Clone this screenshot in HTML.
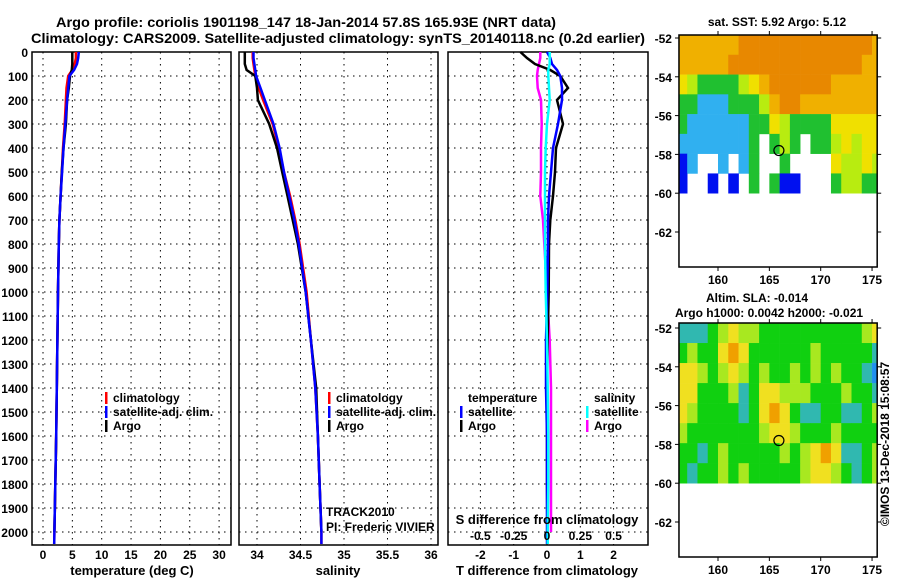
<!DOCTYPE html>
<html><head><meta charset="utf-8"><style>
html,body{margin:0;padding:0;background:#fff;}
svg{display:block;font-family:"Liberation Sans",sans-serif;}
.b{font-weight:bold;font-size:12px;}
</style></head><body>
<svg id="svg" width="900" height="580" viewBox="0 0 900 580">
<text x="56" y="27" class="b" style="font-size:14px" textLength="500" lengthAdjust="spacingAndGlyphs">Argo profile: coriolis 1901198_147 18-Jan-2014 57.8S 165.93E (NRT data)</text>
<text x="31" y="43" class="b" style="font-size:14px" textLength="614" lengthAdjust="spacingAndGlyphs">Climatology: CARS2009. Satellite-adjusted climatology: synTS_20140118.nc (0.2d earlier)</text>
<g id="g"></g>
</svg>
<script>
const depths=[0,25,50,75,100,150,200,300,400,500,600,700,800,1000,1200,1400,1600,1800,2000,2050];
const tClim=[5.6,5.6,5.4,5.0,4.3,4.0,3.9,3.7,3.4,3.2,3.0,2.8,2.7,2.55,2.45,2.35,2.25,2.1,1.95,1.9];
const tSat=[6.1,6.0,5.8,5.3,4.5,4.3,4.1,3.8,3.5,3.25,3.0,2.8,2.7,2.55,2.45,2.35,2.25,2.1,1.95,1.9];
const tArgo=[5.0,5.0,5.0,4.9,4.6,4.4,4.1,3.9,3.5,3.2,3.0,2.8,2.7,2.55,2.45,2.35,2.25,2.1,1.95,null];
const sClim=[33.95,33.95,33.96,33.97,33.98,34.02,34.07,34.18,34.25,34.31,34.38,34.44,34.49,34.57,34.62,34.67,34.70,34.72,34.74,34.74];
const sSat=[33.96,33.96,33.97,33.98,33.99,34.04,34.09,34.19,34.26,34.31,34.37,34.43,34.48,34.56,34.62,34.67,34.70,34.72,34.74,34.74];
const sArgo=[33.86,33.86,33.86,33.88,33.98,34.00,34.01,34.14,34.23,34.29,34.35,34.41,34.47,34.56,34.62,34.68,34.70,34.72,34.74,null];
const dTSat=[0,0.1,0.15,0.3,0.4,0.45,0.45,0.33,0.18,0.12,0.06,0.03,0.03,0.01,-0.03,-0.03,0,0,0,0];
const dTArgo=[-0.8,-0.6,-0.36,0.1,0.4,0.63,0.3,0.48,0.27,0.24,0.18,0.1,0.06,0.05,0.02,0,0,0,0.01,null];
const dSSat=[0.02,0.02,0.02,0.01,0.01,0.015,0.02,0.0,-0.01,-0.015,-0.015,-0.015,-0.015,-0.01,0,0.005,0.01,0.01,0.005,0.005];
const dSArgo=[-0.05,-0.05,-0.06,-0.07,-0.075,-0.07,-0.045,-0.04,-0.045,-0.045,-0.05,-0.03,-0.02,0,0.02,0.03,0.03,0.03,0.03,null];
const depthTicks=[0,100,200,300,400,500,600,700,800,900,1000,1100,1200,1300,1400,1500,1600,1700,1800,1900,2000];
const tTicks=[0,5,10,15,20,25,30];
const sTicks=[34,34.5,35,35.5,36];
const dTTicks=[-2,-1,0,1,2];
const dSTicks=[-0.5,-0.25,0,0.25,0.5];
const dSTickLabels=["-0.5","-0.25","0","0.25","0.5"];
const sstGrid=[
[6,6,6,6,6,6,7,7,7,7,7,7,7,7,7,7,7,7,7,6],
[6,6,6,6,6,7,7,7,7,7,7,7,7,7,7,7,7,7,6,6],
[5,4,3,3,3,3,4,5,6,7,7,7,7,7,7,6,6,6,6,6],
[3,3,2,2,2,3,3,3,4,6,7,7,6,6,6,6,6,6,6,6],
[3,2,2,2,2,2,2,3,3,5,4,3,3,3,3,5,5,5,5,5],
[2,2,2,2,2,2,2,3,0,3,4,3,0,3,3,4,5,4,5,5],
[1,2,0,0,2,0,2,3,0,0,3,0,0,0,0,5,4,4,5,4],
[1,0,0,1,0,1,0,3,0,3,1,1,0,0,0,3,4,4,3,3]];
const slaGrid=[
[-1,-1,-1,0,1,2,1,1,0,0,0,0,0,0,0,0,0,0,1,2],
[0,1,0,0,2,3,2,0,0,0,0,0,0,1,0,0,0,0,0,-1],
[2,2,1,0,1,2,1,0,1,0,0,1,0,1,0,1,0,0,-1,-2],
[2,2,0,0,0,1,-1,0,2,2,1,1,1,0,0,0,1,0,0,-1],
[2,1,0,0,0,0,-1,0,2,3,2,0,-1,-1,0,0,-1,-1,0,1],
[1,0,0,0,0,0,0,0,1,2,2,1,0,0,0,1,0,0,0,0],
[0,0,-1,0,1,0,0,0,0,0,1,0,1,2,3,2,-1,-1,0,1],
[0,-1,0,0,1,0,1,0,0,0,0,0,1,2,2,1,0,-1,0,1]];
const latTicks=[-52,-54,-56,-58,-60,-62];
const lonTicks=[160,165,170,175];
const argoLon=165.93, argoLat=-57.8;

const NS="http://www.w3.org/2000/svg";
const G=document.getElementById('g');
function el(t,a,p){const e=document.createElementNS(NS,t);for(const k in a)e.setAttribute(k,a[k]);(p||G).appendChild(e);return e;}
function txt(x,y,s,anchor,cls,extra){const e=el('text',Object.assign({x:x,y:y,'text-anchor':anchor||'start','class':cls||'b'},extra||{}));e.textContent=s;return e;}
const yD=d=>52+d*0.24;
const TOP=52,BOT=545;
const panels=[
 {x0:32,x1:231,fx:v=>43+v*5.87,ticks:tTicks,labels:tTicks.map(String),name:'temperature'},
 {x0:239,x1:438,fx:v=>257+(v-34)*87,ticks:sTicks,labels:sTicks.map(String),name:'salinity'},
 {x0:448,x1:648,fx:v=>547+v*33.3,ticks:dTTicks,labels:dTTicks.map(String),name:'difference'}];
const fS=v=>547+v*133.3;
panels.forEach((p,i)=>{
 const g=el('g',{});
 
 
 depthTicks.forEach(d=>{if(d>0){const l=el('line',{x1:p.x0,x2:p.x1,y1:yD(d),y2:yD(d),stroke:'#000','stroke-dasharray':'1.5,4.5'},g);}});
 p.ticks.forEach((v,j)=>{const x=p.fx(v);const l=el('line',{x1:x,x2:x,y1:TOP,y2:BOT,stroke:'#000','stroke-dasharray':'1.5,4.5'},g);
  const t=txt(x,559,p.labels[j],'middle');});
 const r=el('rect',{x:p.x0,y:TOP,width:p.x1-p.x0,height:BOT-TOP,fill:'none',stroke:'#000','stroke-width':1.5},g);
 
});
depthTicks.forEach(d=>{const t=txt(28,yD(d)+5,String(d),'end');});
function line(vals,fx,col,name,w){let pts=[];depths.forEach((d,i)=>{if(vals[i]!==null)pts.push(fx(vals[i]).toFixed(1)+','+yD(d).toFixed(1));});
 const e=el('polyline',{points:pts.join(' '),fill:'none',stroke:col,'stroke-width':w||2.5});
 }
const p0=panels[0].fx,p1=panels[1].fx,p2=panels[2].fx;
line(tClim,p0,'#f00','temp-climatology-line');line(tArgo,p0,'#000','temp-argo-line');line(tSat,p0,'#00f','temp-satellite-line');
line(sClim,p1,'#f00','sal-climatology-line');line(sArgo,p1,'#000','sal-argo-line');line(sSat,p1,'#00f','sal-satellite-line');
line(dSArgo,fS,'#f0f','sdiff-argo-line');line(dTArgo,p2,'#000','tdiff-argo-line');line(dTSat,p2,'#00f','tdiff-satellite-line');line(dSSat,fS,'#0ff','sdiff-satellite-line');
[[132,'temperature (deg C)','x-axis-title-temperature'],[338,'salinity','x-axis-title-salinity'],[547,'T difference from climatology','x-axis-title-tdiff']].forEach(a=>{const t=txt(a[0],575,a[1],'middle');t.style.fontSize='13px';});
let t=txt(547,524,'S difference from climatology','middle');t.style.fontSize='13px';
dSTicks.forEach((v,i)=>{const t=txt(fS(v),540,dSTickLabels[i],'middle');});
function leg(x,y,col,s,name){const m=el('rect',{x:x,y:y-10,width:2.5,height:12,fill:col});
 const t=txt(x+8,y,s);}
[[105,'#f00','climatology'],[105,'#00f','satellite-adj. clim.'],[105,'#000','Argo']].forEach((a,i)=>leg(a[0],402+i*14,a[1],a[2],'legend-entry-temp-'+i));
[[328,'#f00','climatology'],[328,'#00f','satellite-adj. clim.'],[328,'#000','Argo']].forEach((a,i)=>leg(a[0],402+i*14,a[1],a[2],'legend-entry-sal-'+i));
t=txt(468,402,'temperature');
t=txt(594,402,'salinity');
leg(460,416,'#00f','satellite','legend-entry-tdiff-sat');leg(460,430,'#000','Argo','legend-entry-tdiff-argo');
leg(586,416,'#0ff','satellite','legend-entry-sdiff-sat');leg(586,430,'#f0f','Argo','legend-entry-sdiff-argo');
t=txt(326,516,'TRACK2010','start','');t.style.fontSize='12px';
t=txt(326,531,'PI: Frederic VIVIER','start','');t.style.fontSize='12px';
const xL=l=>718+(l-160)*10.27;
const sstCol={0:null,1:'#0010f0',2:'#30b0f0',3:'#20c030',4:'#b8ec10',5:'#f0e000',6:'#f0b000',7:'#e88800'};
const slaCol={'-2':'#2090f0','-1':'#30b8b0','0':'#10d010','1':'#a8e820','2':'#f0e020','3':'#f0a000'};
function map(grid,colors,top,bot,lat52,name){
 const yL=l=>lat52+(-52-l)*19.4;
 const g=el('g',{});
 const lonL=xL(156.2),lonR=xL(175.5);
 const latTop=-52-(top-lat52)/19.4, step=(latTop+60)/grid.length;
 grid.forEach((row,r)=>row.forEach((v,c)=>{const col=colors[v];if(!col)return;
  const x0=Math.max(lonL,xL(156.5+c-0.5)),x1=Math.min(lonR,xL(156.5+c+0.5));
  const y0=yL(latTop-r*step),y1=yL(latTop-(r+1)*step);
  const e=el('rect',{x:x0,y:y0,width:x1-x0+0.3,height:y1-y0+0.3,fill:col},g);
  }));
 const fr=el('rect',{x:lonL,y:top,width:lonR-lonL,height:bot-top,fill:'none',stroke:'#000','stroke-width':1.5},g);
 
 latTicks.forEach(l=>{const y=yL(l);el('line',{x1:lonL-4,x2:lonL,y1:y,y2:y,stroke:'#000'},g);el('line',{x1:lonR,x2:lonR+4,y1:y,y2:y,stroke:'#000'},g);
  const t=txt(lonL-7,y+5,String(l),'end');});
 lonTicks.forEach(l=>{const x=xL(l);el('line',{x1:x,x2:x,y1:top-4,y2:top,stroke:'#000'},g);el('line',{x1:x,x2:x,y1:bot,y2:bot+4,stroke:'#000'},g);
  const t=txt(x,bot+17,String(l),'middle');});
 const c=el('circle',{cx:xL(argoLon),cy:yL(argoLat),r:5,fill:'none',stroke:'#000','stroke-width':1.2},g);
 
}
map(sstGrid,sstCol,35,267,38,'sst-map');
map(slaGrid,slaCol,323,557,328,'sla-map');
t=txt(777,26,'sat. SST: 5.92 Argo: 5.12','middle');
t=txt(757,302,'Altim. SLA: -0.014','middle');
t=txt(769,317,'Argo h1000: 0.0042 h2000: -0.021','middle');
t=txt(0,0,'©IMOS 13-Dec-2018 15:08:57','middle','',{transform:'translate(889,444) rotate(-90)'});t.style.fontSize='12px';
</script>
</body></html>
